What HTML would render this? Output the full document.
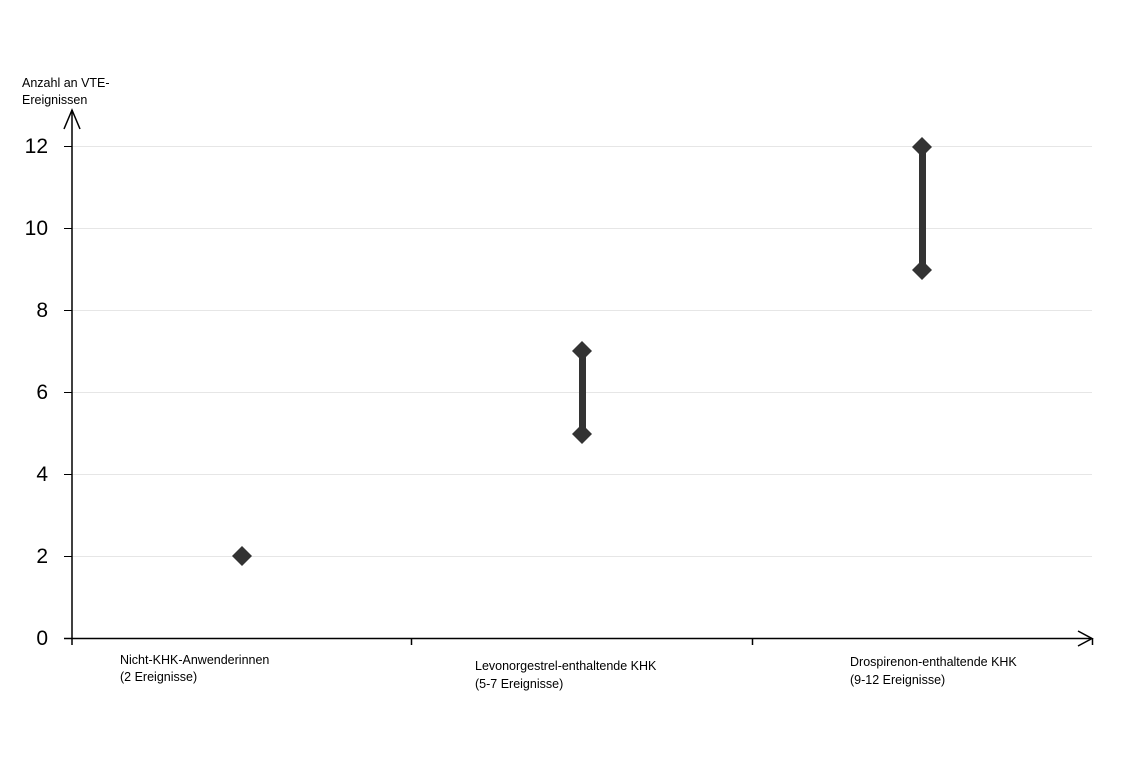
<!DOCTYPE html>
<html><head><meta charset="utf-8"><style>body{margin:0;background:#fff}</style></head><body>
<svg width="1146" height="759" xmlns="http://www.w3.org/2000/svg" font-family="Liberation Sans, sans-serif">
<rect width="1146" height="759" fill="#fff"/>
<g stroke="#e6e6e6" stroke-width="1">
<line x1="71" y1="146.5" x2="1092" y2="146.5"/>
<line x1="71" y1="228.5" x2="1092" y2="228.5"/>
<line x1="71" y1="310.5" x2="1092" y2="310.5"/>
<line x1="71" y1="392.5" x2="1092" y2="392.5"/>
<line x1="71" y1="474.5" x2="1092" y2="474.5"/>
<line x1="71" y1="556.5" x2="1092" y2="556.5"/>
</g>
<g stroke="#000" stroke-width="1.5" fill="none">
<line x1="72" y1="110" x2="72" y2="645"/>
<line x1="64" y1="638.5" x2="1092" y2="638.5"/>
<polyline points="64,129 72,110 80,129"/>
<polyline points="1078,631 1092,638.5 1078,646"/>
<line x1="411.5" y1="638" x2="411.5" y2="645"/>
<line x1="752.5" y1="638" x2="752.5" y2="645"/>
<line x1="1092.5" y1="638" x2="1092.5" y2="645"/>
</g>
<g stroke="#000" stroke-width="1">
<line x1="64" y1="146.5" x2="72" y2="146.5"/>
<line x1="64" y1="228.5" x2="72" y2="228.5"/>
<line x1="64" y1="310.5" x2="72" y2="310.5"/>
<line x1="64" y1="392.5" x2="72" y2="392.5"/>
<line x1="64" y1="474.5" x2="72" y2="474.5"/>
<line x1="64" y1="556.5" x2="72" y2="556.5"/>
</g>
<g font-size="21" text-anchor="end" fill="#000">
<text x="48" y="153">12</text>
<text x="48" y="235">10</text>
<text x="48" y="317">8</text>
<text x="48" y="399">6</text>
<text x="48" y="481">4</text>
<text x="48" y="563">2</text>
<text x="48" y="645">0</text>
</g>
<g font-size="12.5" fill="#000">
<text x="22" y="87">Anzahl an VTE-</text>
<text x="22" y="104">Ereignissen</text>
<text x="120" y="664">Nicht-KHK-Anwenderinnen</text>
<text x="120" y="681">(2 Ereignisse)</text>
<text x="475" y="670">Levonorgestrel-enthaltende KHK</text>
<text x="475" y="688">(5-7 Ereignisse)</text>
<text x="850" y="666">Drospirenon-enthaltende KHK</text>
<text x="850" y="684">(9-12 Ereignisse)</text>
</g>
<g fill="#333">
<rect x="579" y="351" width="7" height="83"/>
<rect x="919" y="147" width="7" height="123"/>
<polygon points="242,546 252,556 242,566 232,556"/>
<polygon points="582,341 592,351 582,361 572,351"/>
<polygon points="582,424 592,434 582,444 572,434"/>
<polygon points="922,137 932,147 922,157 912,147"/>
<polygon points="922,260 932,270 922,280 912,270"/>
</g>
</svg>
</body></html>
